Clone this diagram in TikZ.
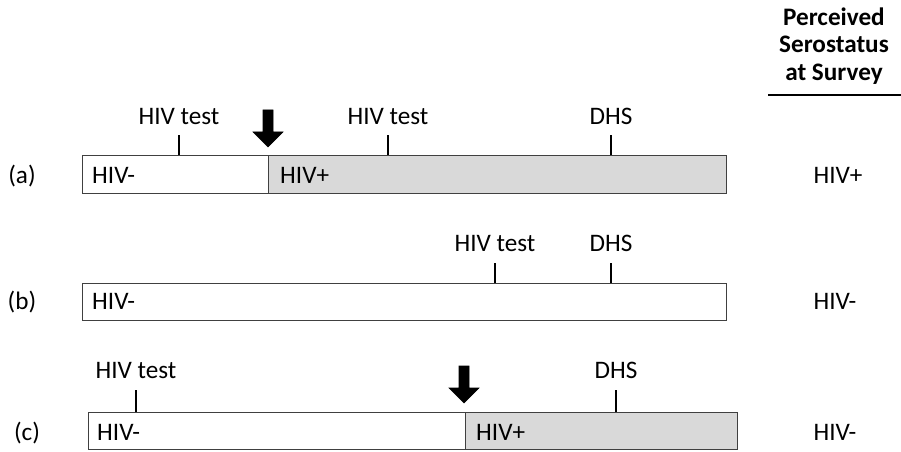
\documentclass[tikz,border=0pt]{standalone}
\usepackage{fontspec}
\setmainfont{Carlito}
\usetikzlibrary{positioning, calc}

\begin{document}
\begin{tikzpicture}[x=0.03cm,y=-0.03cm,
    every node/.style={font=\fontsize{21.5}{24}\selectfont,inner sep=0pt},
    lbl/.style={text height=0.64em,text depth=0pt,yshift=-0.13cm},
    bar/.style={draw=black!75,line width=0.8pt},
    posbar/.style={bar,fill=black!15},
    tickline/.style={line width=2.5pt},
    infection/.style={fill=black,draw=black,line width=0.5pt}]
    \useasboundingbox (0,0) rectangle (901,452);

    % Kopf der rechten Spalte
    \node[align=center,font=\fontsize{21.5}{23.4}\selectfont\bfseries] (head) at (834,46) {Perceived\\Serostatus\\at Survey};
    \coordinate (headL) at (768,95);
    \coordinate (headR) at (901,95);
    \draw[line width=2.5pt] (headL) -- (headR);

    % Zeile (a)
    \draw[bar] (82,155) rectangle (268,193);
    \draw[posbar] (268,155) rectangle (726,193);
    \node[lbl] (rowa) at (22,175) {(a)};
    \node[lbl,anchor=west] (nega) at (92,175) {HIV-};
    \node[lbl,anchor=west] (posa) at (280,175) {HIV+};
    \node[lbl] (resa) at (838,175) {HIV+};
    \foreach \tx/\tname/\ttext in {179/testa1/HIV test, 388/testa2/HIV test, 611/dhsa/DHS} {
        \node[lbl] (\tname) at (\tx,116) {\ttext};
        \coordinate (\tname-bar) at (\tx,155);
        \draw[tickline] (\tname-bar) -- ++(0,-20);
    }

    % Zeile (b)
    \draw[bar] (82,283) rectangle (726,320);
    \node[lbl] (rowb) at (22,301) {(b)};
    \node[lbl,anchor=west] (negb) at (92,301) {HIV-};
    \node[lbl] (resb) at (835,301) {HIV-};
    \foreach \tx/\tname/\ttext in {495/testb/HIV test, 611/dhsb/DHS} {
        \node[lbl] (\tname) at (\tx,243) {\ttext};
        \coordinate (\tname-bar) at (\tx,283);
        \draw[tickline] (\tname-bar) -- ++(0,-20);
    }

    % Zeile (c)
    \draw[bar] (88,412) rectangle (465,449);
    \draw[posbar] (465,412) rectangle (737,449);
    \node[lbl] (rowc) at (27,432) {(c)};
    \node[lbl,anchor=west] (negc) at (97,432) {HIV-};
    \node[lbl,anchor=west] (posc) at (476,432) {HIV+};
    \node[lbl] (resc) at (835,432) {HIV-};
    \foreach \tx/\tname/\ttext in {136/testc/HIV test, 616/dhsc/DHS} {
        \node[lbl] (\tname) at (\tx,370) {\ttext};
        \coordinate (\tname-bar) at (\tx,412);
        \draw[tickline] (\tname-bar) -- ++(0,-22);
    }

    % Serokonversion
    \foreach \ax/\ay in {268/147, 464/403} {
        \draw[infection] (\ax,\ay) -- ++(15,-15) -- ++(-10,0) -- ++(0,-22) -- ++(-10,0)
            -- ++(0,22) -- ++(-10,0) -- cycle;
    }
\end{tikzpicture}
\end{document}
